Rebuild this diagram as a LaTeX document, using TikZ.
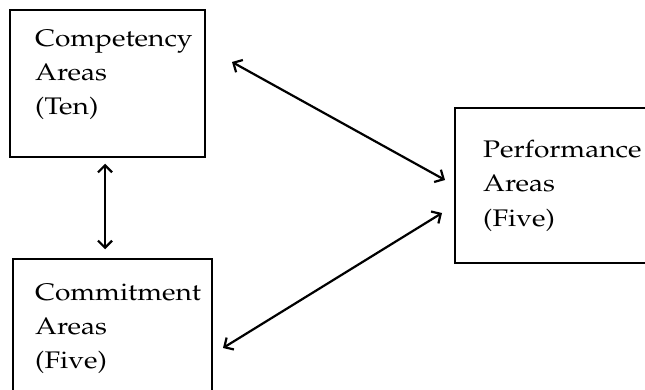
\documentclass[tikz,border=0pt]{standalone}
\usepackage[T1]{fontenc}
\usepackage{mathpazo}
\usepackage{graphicx}
\usetikzlibrary{arrows.meta}

\newcommand{\wide}[1]{\scalebox{1.17}[1]{#1}}

\tikzset{
	area/.style={draw, line width=1.5pt, inner sep=0pt},
	word/.style={anchor=base west, inner sep=0pt, font=\fontsize{24}{34}\selectfont},
	link/.style={line width=2.2pt, {Straight Barb[length=7pt,width=14pt]}-{Straight Barb[length=7pt,width=14pt]}}
}

\begin{document}
\begin{tikzpicture}[x=1pt, y=-1pt]
		\useasboundingbox (0,0) rectangle (645,390);
		% boxes
		\node[area, minimum width=195pt, minimum height=147pt] (comp) at (107.5,83.5){};
		\node[area, minimum width=199pt, minimum height=170pt] (commit) at (112.5,344){};
		\node[area, minimum width=230pt, minimum height=155pt] (perf) at (570,185.5){};
		% texts
		\foreach \txt [count=\i from 0] in {Competency,Areas,(Ten)}
			\node[word] (comp-\i) at (35,{47+34*\i}){\wide{\txt}};
		\foreach \txt [count=\i from 0] in {Commitment,Areas,(Five)}
			\node[word] (commit-\i) at (35,{300+34*\i}){\wide{\txt}};
		\foreach \txt [count=\i from 0] in {Performance,Areas,(Five)}
			\node[word] (perf-\i) at (483,{158+34*\i}){\wide{\txt}};
		% arrow ends
		\coordinate (compR) at (232,62);
		\coordinate (perfA) at (445,180);
		\coordinate (perfB) at (442,213);
		\coordinate (commitR) at (223,348);
		\coordinate (vx) at (105,0);
		\draw[link] (compR) -- (perfA);
		\draw[link] (commitR) -- (perfB);
		\draw[link, shorten <=6pt, shorten >=9pt] (comp.south -| vx) -- (commit.north -| vx);
\end{tikzpicture}
\end{document}
